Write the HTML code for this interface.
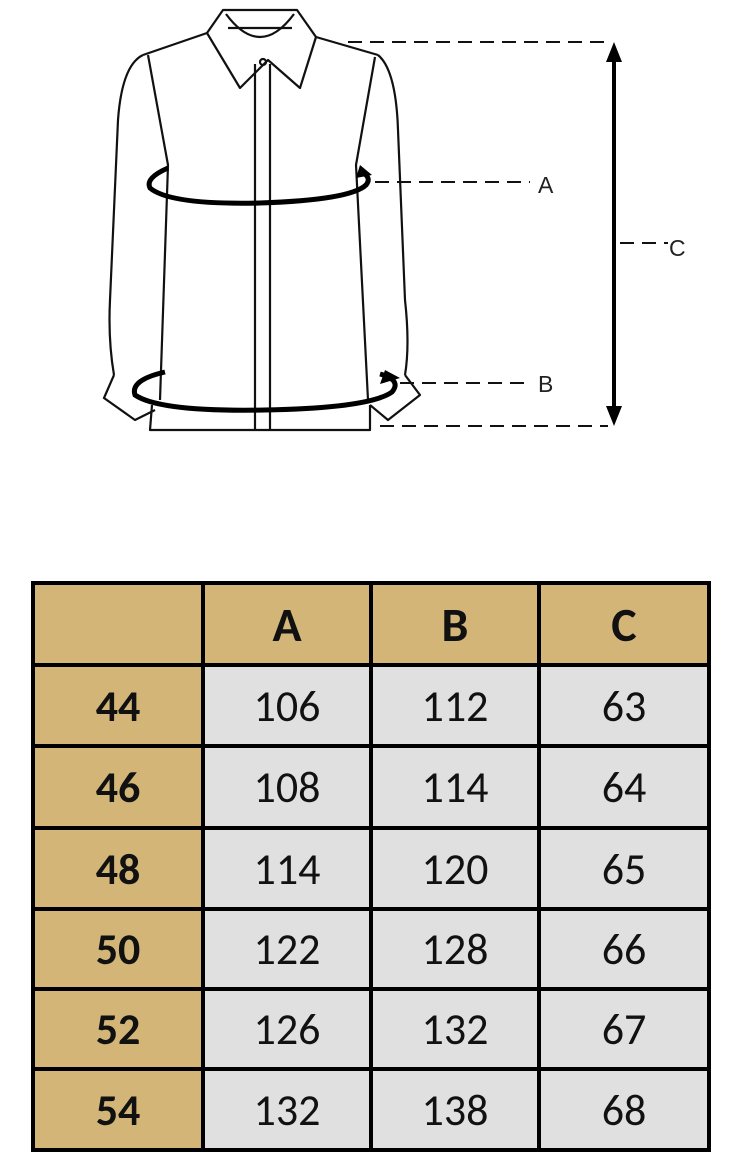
<!DOCTYPE html>
<html><head><meta charset="utf-8"><style>
html,body{margin:0;padding:0;background:#fff;width:740px;height:1158px;overflow:hidden;font-family:"Liberation Sans",sans-serif}
svg{position:absolute;left:0;top:0}
.c{position:absolute;display:flex;align-items:center;justify-content:center;font-family:Calibri,"Carlito","Liberation Sans",sans-serif;font-size:44px;color:#111;background:#e0e0e0}
.h{background:#d2b577;font-weight:bold}
.l{position:absolute;background:#000}
</style></head><body>
<svg width="740" height="560" viewBox="0 0 740 560">
<g fill="none" stroke="#111" stroke-width="2.2" stroke-linejoin="round">
<path d="M223,10 L297,10 L316,37 L300,88 L268,60 L240,88 L207,33 Z"/>
<path d="M226,14 Q260,60 294,14"/>
<path d="M228,28 L292,28"/>
<path d="M207,33 L143,55"/>
<path d="M316,37 L378,55"/>
<path d="M143,55 Q122,65 118,120 L110,300 Q108,340 114,375"/>
<path d="M148,55 L168,165 L160,400"/>
<path d="M114,375 L104,398 L135,420 L155,410"/>
<path d="M378,55 Q396,70 398,130 L405,300 Q410,345 405,375"/>
<path d="M375,57 L356,165 L368,400"/>
<path d="M405,375 L420,395 L388,420 L370,405"/>
<path d="M152,405 L150,430 L370,430 L370,405"/>
<path d="M255,64 L255,430 M270,64 L270,430"/>
<circle cx="263" cy="62" r="3"/>
</g>
<g fill="none" stroke="#000" stroke-width="5">
<path d="M168,168 Q145,178 150,188 Q170,205 260,203 Q350,200 366,185 Q372,178 362,172"/>
<path d="M165,372 Q130,380 135,395 Q160,412 265,410 Q370,408 392,392 Q402,380 380,374"/>
</g>
<path d="M360,165 L372,175 L356,178 Z" fill="#000"/>
<path d="M385,370 L400,378 L380,384 Z" fill="#000"/>
<g stroke="#111" stroke-width="2" stroke-dasharray="14,8" fill="none">
<path d="M348,42 L608,42"/>
<path d="M375,182 L530,182"/>
<path d="M400,383 L530,383"/>
<path d="M380,426 L608,426"/>
<path d="M620,243 L668,243"/>
</g>
<path d="M614,55 L614,412" stroke="#000" stroke-width="4"/>
<path d="M614,42 L606,62 L622,62 Z M614,426 L606,406 L622,406 Z" fill="#000"/>
<g font-family="Liberation Sans,sans-serif" font-size="23" fill="#222">
<text x="538" y="193">A</text>
<text x="538" y="392">B</text>
<text x="669" y="256">C</text>
</g>
</svg>

<div class="c h" style="left:33px;top:583px;width:170px;height:82px"></div>
<div class="c h" style="left:203px;top:583px;width:168px;height:82px;font-size:48px">A</div>
<div class="c h" style="left:371px;top:583px;width:168px;height:82px;font-size:48px">B</div>
<div class="c h" style="left:539px;top:583px;width:170px;height:82px;font-size:48px">C</div>

<div class="c h" style="left:33px;top:665px;width:170px;height:81px">44</div>
<div class="c" style="left:203px;top:665px;width:168px;height:81px">106</div>
<div class="c" style="left:371px;top:665px;width:168px;height:81px">112</div>
<div class="c" style="left:539px;top:665px;width:170px;height:81px">63</div>

<div class="c h" style="left:33px;top:746px;width:170px;height:82px">46</div>
<div class="c" style="left:203px;top:746px;width:168px;height:82px">108</div>
<div class="c" style="left:371px;top:746px;width:168px;height:82px">114</div>
<div class="c" style="left:539px;top:746px;width:170px;height:82px">64</div>

<div class="c h" style="left:33px;top:828px;width:170px;height:81px">48</div>
<div class="c" style="left:203px;top:828px;width:168px;height:81px">114</div>
<div class="c" style="left:371px;top:828px;width:168px;height:81px">120</div>
<div class="c" style="left:539px;top:828px;width:170px;height:81px">65</div>

<div class="c h" style="left:33px;top:909px;width:170px;height:80px">50</div>
<div class="c" style="left:203px;top:909px;width:168px;height:80px">122</div>
<div class="c" style="left:371px;top:909px;width:168px;height:80px">128</div>
<div class="c" style="left:539px;top:909px;width:170px;height:80px">66</div>

<div class="c h" style="left:33px;top:989px;width:170px;height:80px">52</div>
<div class="c" style="left:203px;top:989px;width:168px;height:80px">126</div>
<div class="c" style="left:371px;top:989px;width:168px;height:80px">132</div>
<div class="c" style="left:539px;top:989px;width:170px;height:80px">67</div>

<div class="c h" style="left:33px;top:1069px;width:170px;height:81px">54</div>
<div class="c" style="left:203px;top:1069px;width:168px;height:81px">132</div>
<div class="c" style="left:371px;top:1069px;width:168px;height:81px">138</div>
<div class="c" style="left:539px;top:1069px;width:170px;height:81px">68</div>

<div class="l" style="left:31px;top:581px;width:680px;height:4px"></div>
<div class="l" style="left:31px;top:663px;width:680px;height:4px"></div>
<div class="l" style="left:31px;top:744px;width:680px;height:4px"></div>
<div class="l" style="left:31px;top:826px;width:680px;height:4px"></div>
<div class="l" style="left:31px;top:907px;width:680px;height:4px"></div>
<div class="l" style="left:31px;top:987px;width:680px;height:4px"></div>
<div class="l" style="left:31px;top:1067px;width:680px;height:4px"></div>
<div class="l" style="left:31px;top:1148px;width:680px;height:4px"></div>
<div class="l" style="left:31px;top:581px;width:4px;height:571px"></div>
<div class="l" style="left:201px;top:581px;width:4px;height:571px"></div>
<div class="l" style="left:369px;top:581px;width:4px;height:571px"></div>
<div class="l" style="left:537px;top:581px;width:4px;height:571px"></div>
<div class="l" style="left:707px;top:581px;width:4px;height:571px"></div>
</body></html>
